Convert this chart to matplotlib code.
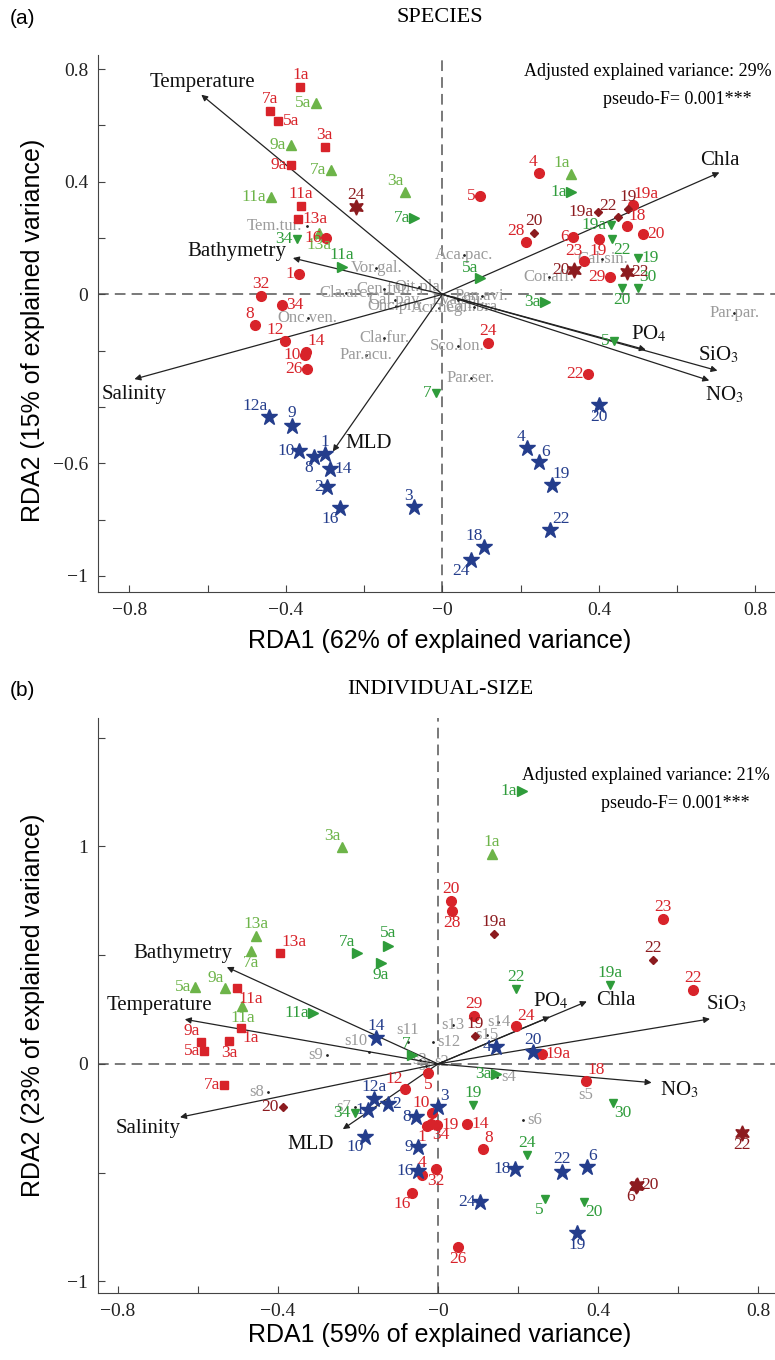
import matplotlib.pyplot as plt
import numpy as np

plt.rcParams['font.family'] = ['Liberation Serif', 'DejaVu Serif']
plt.rcParams['mathtext.fontset'] = 'stix'

RED = '#d8232a'
MAROON = '#8c1b1f'
LGREEN = '#6db449'
DGREEN = '#2f9c3b'
BLUE = '#243d8c'
GREY = '#9b9b9b'

#### DATOS PANEL (a) SPECIES ####
a_sq_lab = ['1a', '7a', '5a', '3a', '9a', '11a', '13a']
a_sq_x = [-0.363, -0.441, -0.419, -0.301, -0.386, -0.362, -0.369]
a_sq_y = [0.735, 0.651, 0.616, 0.523, 0.460, 0.312, 0.268]

a_up_lab = ['5a', '9a', '7a', '11a', '3a', '1a', '13a']
a_up_x = [-0.323, -0.388, -0.285, -0.439, -0.095, 0.329, -0.316]
a_up_y = [0.679, 0.531, 0.442, 0.347, 0.363, 0.428, 0.217]

a_rt_lab = ['7a', '11a', '1a', '5a', '3a']
a_rt_x = [-0.072, -0.257, 0.329, 0.096, 0.261]
a_rt_y = [0.271, 0.097, 0.365, 0.057, -0.026]

a_dn_lab = ['34', '19a', '22', '19', '30', '20', '5', '7']
a_dn_x = [-0.372, 0.431, 0.434, 0.499, 0.499, 0.458, 0.439, -0.016]
a_dn_y = [0.196, 0.247, 0.196, 0.129, 0.024, 0.024, -0.165, -0.349]

a_st6_lab = ['24', '20', '22']
a_st6_x = [-0.220, 0.337, 0.472]
a_st6_y = [0.310, 0.085, 0.078]

a_ci_lab = ['1', '32', '34', '8', '12', '14', '10', '26', '16', '4', '5', '28', '6',
            '19', '23', '29', '18', '20', '19a', '24', '22']
a_ci_x = [-0.367, -0.463, -0.410, -0.478, -0.401, -0.348, -0.352, -0.347, -0.297, 0.246,
          0.096, 0.214, 0.335, 0.399, 0.363, 0.429, 0.472, 0.512, 0.486, 0.116, 0.371]
a_ci_y = [0.072, -0.005, -0.037, -0.108, -0.165, -0.205, -0.215, -0.266, 0.200, 0.430,
          0.351, 0.185, 0.205, 0.197, 0.117, 0.063, 0.241, 0.214, 0.318, -0.173, -0.284]

a_di_lab = ['20', '19a', '22', '19']
a_di_x = [0.233, 0.397, 0.448, 0.475]
a_di_y = [0.217, 0.294, 0.276, 0.303]

a_bs_lab = ['12a', '9', '10', '8', '1', '14', '2', '16', '3', '20', '4', '6', '19', '22', '18', '24']
a_bs_x = [-0.444, -0.384, -0.367, -0.327, -0.301, -0.286, -0.295, -0.261, -0.072,
          0.399, 0.215, 0.248, 0.279, 0.276, 0.107, 0.073]
a_bs_y = [-0.434, -0.466, -0.558, -0.578, -0.567, -0.620, -0.683, -0.760, -0.754,
          -0.393, -0.546, -0.597, -0.677, -0.837, -0.896, -0.943]

a_env = ['Temperature', 'Bathymetry', 'Chla', 'Salinity', 'MLD', 'PO$_4$', 'SiO$_3$', 'NO$_3$']
a_env_x = [-0.616, -0.382, 0.708, -0.787, -0.280, 0.520, 0.703, 0.682]
a_env_y = [0.709, 0.129, 0.433, -0.301, -0.558, -0.197, -0.271, -0.306]

a_sp = ['Tem.tur.', 'Aca.pac.', 'Cor.aff.', 'Cal.sin.', 'Par.par.', 'Onc.ven.', 'Cla.fur.',
        'Par.acu.', 'Sco.lon.', 'Par.ser.', 'Vor.gal.', 'Cla.arc.', 'Cen.fur.', 'Cal.pav.',
        'Onc.pro.', 'Acr.neg.', 'Oit.pla.', 'Eva.spi.', 'Pen.avi.', 'Can.bra.']
a_sp_x = [-0.347, 0.056, 0.273, 0.409, 0.746, -0.344, -0.148, -0.195, 0.039, 0.073,
          -0.169, -0.247, -0.150, -0.120, -0.118, -0.008, -0.060, 0.040, 0.100, 0.080]
a_sp_y = [0.241, 0.140, 0.062, 0.125, -0.066, -0.085, -0.156, -0.215, -0.185, -0.298,
          0.093, 0.004, 0.020, -0.020, -0.043, -0.048, 0.027, -0.020, -0.005, -0.045]

#### DATOS PANEL (b) INDIVIDUAL-SIZE ####
b_up_lab = ['3a', '13a', '7a', '5a', '9a', '11a', '1a']
b_up_x = [-0.239, -0.456, -0.468, -0.607, -0.532, -0.489, 0.134]
b_up_y = [0.999, 0.589, 0.520, 0.353, 0.347, 0.267, 0.964]

b_sq_lab = ['13a', '11a', '9a', '1a', '3a', '5a', '7a']
b_sq_x = [-0.395, -0.502, -0.593, -0.493, -0.522, -0.584, -0.534]
b_sq_y = [0.512, 0.348, 0.100, 0.167, 0.106, 0.061, -0.097]

b_rt_lab = ['7a', '5a', '9a', '11a', '1a', '3a', '7']
b_rt_x = [-0.203, -0.124, -0.143, -0.313, 0.209, 0.144, -0.066]
b_rt_y = [0.509, 0.544, 0.463, 0.233, 1.255, -0.047, 0.041]

b_dn_lab = ['34', '19a', '22', '19', '30', '24', '5', '20']
b_dn_x = [-0.208, 0.430, 0.194, 0.088, 0.437, 0.223, 0.268, 0.365]
b_dn_y = [-0.227, 0.363, 0.343, -0.189, -0.178, -0.418, -0.623, -0.633]

b_di_lab = ['20', '19a', '22', '19']
b_di_x = [-0.388, 0.141, 0.538, 0.093]
b_di_y = [-0.196, 0.596, 0.478, 0.129]

b_st6_lab = ['22', '20', '6']
b_st6_x = [0.759, 0.498, 0.496]
b_st6_y = [-0.316, -0.556, -0.560]

b_ci_lab = ['20', '28', '23', '22', '29', '24', '19a', '18', '14', '8', '26', '12', '5',
            '10', '1', '19', '34', '4', '32', '16']
b_ci_x = [0.033, 0.036, 0.563, 0.638, 0.091, 0.195, 0.259, 0.369, 0.072, 0.113, 0.051,
          -0.083, -0.024, -0.016, -0.027, -0.003, -0.018, -0.041, -0.005, -0.064]
b_ci_y = [0.749, 0.703, 0.665, 0.340, 0.221, 0.172, 0.045, -0.078, -0.277, -0.392, -0.840,
          -0.117, -0.040, -0.227, -0.285, -0.280, -0.276, -0.510, -0.484, -0.595]

b_bs_lab = ['14', '12a', '1', '2', '10', '8', '9', '16', '3', '4', '20', '18', '22', '6', '24', '19']
b_bs_x = [-0.155, -0.159, -0.174, -0.126, -0.183, -0.056, -0.051, -0.049, 0.001,
          0.145, 0.237, 0.193, 0.309, 0.372, 0.105, 0.347]
b_bs_y = [0.118, -0.162, -0.211, -0.184, -0.334, -0.245, -0.380, -0.490, -0.199,
          0.080, 0.054, -0.483, -0.495, -0.472, -0.633, -0.775]

b_env = ['Bathymetry', 'Temperature', 'Salinity', 'MLD', 'PO$_4$', 'Chla', 'SiO$_3$', 'NO$_3$']
b_env_x = [-0.528, -0.633, -0.645, -0.238, 0.280, 0.372, 0.680, 0.534]
b_env_y = [0.445, 0.205, -0.245, -0.300, 0.217, 0.287, 0.207, -0.086]

b_sp = ['s4', 's5', 's6', 's7', 's8', 's9', 's10', 's11', 's12', 's13', 's14', 's15',
        's1', 's2', 's3']
b_sp_x = [0.148, 0.368, 0.213, -0.208, -0.424, -0.277, -0.172, -0.075, -0.013, 0.038,
          0.151, 0.122, -0.030, 0.010, -0.045]
b_sp_y = [-0.060, -0.087, -0.257, -0.198, -0.127, 0.041, 0.057, 0.100, 0.103, 0.179,
          0.194, 0.133, -0.010, 0.010, 0.020]

#### COLOCACION DE ETIQUETAS ####
OFF = {'l': (-3, 0, 'right', 'center'), 'r': (3, 0, 'left', 'center'),
       't': (0, 3, 'center', 'bottom'), 'b': (0, -3, 'center', 'top'),
       'tl': (-1, 2, 'right', 'bottom'), 'tr': (1, 2, 'left', 'bottom'),
       'bl': (-1, -2, 'right', 'top'), 'br': (1, -2, 'left', 'top'),
       'c': (0, 0, 'center', 'center')}

a_sq_pos = ['t', 't', 'r', 't', 'l', 't', 'r']
a_up_pos = ['l', 'l', 'l', 'l', 'tl', 'tl', 'b']
a_rt_pos = ['l', 't', 'l', 'tl', 'l']
a_dn_pos = ['l', 'l', 'br', 'r', 'tr', 'b', 'l', 'l']
a_st6_pos = ['t', 'l', 'r']
a_ci_pos = ['l', 't', 'r', 'tl', 'tl', 'tr', 'l', 'l', 'l', 'tl', 'l', 'tl', 'l',
            'b', 'tl', 'l', 'tr', 'r', 'tr', 't', 'l']
a_di_pos = ['t', 'l', 'tl', 't']
a_bs_pos = ['tl', 't', 'l', 'bl', 't', 'r', 'l', 'bl', 'tl', 'b', 'tl', 'tr', 'tr', 'tr', 'tl', 'bl']
a_sp_pos = ['l'] + ['c'] * 19

b_up_pos = ['tl', 't', 'b', 'l', 'tl', 'b', 't']
b_sq_pos = ['tr', 'br', 'tl', 'br', 'b', 'l', 'l']
b_rt_pos = ['tl', 't', 'b', 'l', 'l', 'l', 'tl']
b_dn_pos = ['l', 't', 't', 't', 'br', 't', 'bl', 'br']
b_di_pos = ['l', 't', 't', 't']
b_st6_pos = ['b', 'r', 'bl']
b_ci_pos = ['t', 'b', 't', 't', 't', 'tr', 'r', 'tr', 'r', 'tr', 'b', 'tl', 'b',
            'tl', 'bl', 'r', 'br', 't', 'b', 'bl']
b_bs_pos = ['t', 't', 'l', 'r', 'bl', 'l', 'l', 'l', 'tr', 'l', 't', 'l', 't', 'tr', 'l', 'b']
b_sp_pos = ['r', 'b', 'r', 'l', 'l', 'l', 'tl', 't', 'r', 'c', 'c', 'c', 'c', 'c', 'c']

# desplazamiento (puntos), alineacion de los nombres de las variables
a_env_off = [(1, 9, 'center', 'center'), (-5, 5, 'right', 'center'), (0, 2, 'center', 'bottom'),
             (0, -4, 'center', 'top'), (9, 6, 'left', 'center'), (2, 4, 'center', 'bottom'),
             (1, 4, 'center', 'bottom'), (11, -3, 'center', 'top')]
b_env_off = [(4, 10, 'right', 'center'), (-18, 10, 'center', 'center'), (-23, -8, 'center', 'center'),
             (-23, -11, 'center', 'center'), (1, 4, 'center', 'bottom'), (7, 1, 'left', 'center'),
             (12, 3, 'center', 'bottom'), (6, -5, 'left', 'center')]

W, H = 775, 1360
fig = plt.figure(figsize=(W / 100, H / 100), dpi=100)


def caja(l, t, r, b):
    return [l / W, 1 - b / H, (r - l) / W, (b - t) / H]


def px(x, y):
    return x / W, 1 - y / H


def grupo(ax, labs, xs, ys, pos, marker, col, ms, tcol, fs=12.5):
    ax.plot(xs, ys, ls='none', marker=marker, color=col, mec=col, ms=ms, zorder=4)
    for lab, x, y, p in zip(labs, xs, ys, pos):
        dx, dy, ha, va = OFF[p]
        ax.annotate(lab, (x, y), xytext=(dx, dy), textcoords='offset points',
                    ha=ha, va=va, color=tcol, fontsize=fs, zorder=5)


def especies(ax, labs, xs, ys, pos):
    ax.plot(xs, ys, ls='none', marker='.', color='#222222', ms=2, zorder=2)
    for lab, x, y, p in zip(labs, xs, ys, pos):
        dx, dy, ha, va = OFF[p]
        ax.annotate(lab, (x, y), xytext=(dx, dy), textcoords='offset points',
                    ha=ha, va=va, color=GREY, fontsize=12, zorder=2)


def flechas(ax, nombres, xs, ys, offs):
    for n, x, y, (dx, dy, ha, va) in zip(nombres, xs, ys, offs):
        ax.annotate('', xy=(x, y), xytext=(0, 0),
                    arrowprops=dict(arrowstyle='-|>', color='#222222', lw=0.9,
                                    mutation_scale=9, shrinkA=0, shrinkB=0), zorder=3)
        ax.annotate(n, (x, y), xytext=(dx, dy), textcoords='offset points',
                    ha=ha, va=va, fontsize=15, color='#111111', zorder=6)


def ejes(ax, xl, yl, yt, ylab):
    ax.set_xlim(xl)
    ax.set_ylim(yl)
    for s in ['top', 'right']:
        ax.spines[s].set_visible(False)
    for s in ['left', 'bottom']:
        ax.spines[s].set_color('#444444')
    ax.axhline(0, color='#555555', ls=(0, (7, 4)), lw=1.1, zorder=1)
    ax.axvline(0, color='#555555', ls=(0, (7, 4)), lw=1.1, zorder=1)
    xt = np.round(np.arange(-0.8, 0.81, 0.2), 2)
    ax.set_xticks(xt)
    ax.set_xticklabels([('%g' % v).replace('-', '\u2212') if abs(round(v / 0.4) * 0.4 - v) < 1e-6 else ''
                        for v in xt])
    ax.set_yticks(yt)
    ax.set_yticklabels(ylab)
    ax.tick_params(direction='in', length=5, labelsize=14, colors='#444444',
                   labelcolor='#222222', pad=7)


#### PANEL (a) ####
ax1 = fig.add_axes(caja(98, 55, 775, 592))
yt_a = np.round(np.arange(-1.0, 0.81, 0.2), 2)
lab_a = {0.8: '0.8', 0.4: '0.4', 0.0: '0', -0.6: '\u22120.6', -1.0: '\u22121'}
ejes(ax1, (-0.88, 0.85), (-1.057, 0.85), yt_a, [lab_a.get(v, '') for v in yt_a])

especies(ax1, a_sp, a_sp_x, a_sp_y, a_sp_pos)
flechas(ax1, a_env, a_env_x, a_env_y, a_env_off)
grupo(ax1, a_sq_lab, a_sq_x, a_sq_y, a_sq_pos, 's', RED, 6, RED)
grupo(ax1, a_up_lab, a_up_x, a_up_y, a_up_pos, '^', LGREEN, 7, LGREEN)
grupo(ax1, a_rt_lab, a_rt_x, a_rt_y, a_rt_pos, '>', DGREEN, 6.5, DGREEN)
grupo(ax1, a_dn_lab, a_dn_x, a_dn_y, a_dn_pos, 'v', DGREEN, 6, DGREEN)
grupo(ax1, a_ci_lab, a_ci_x, a_ci_y, a_ci_pos, 'o', RED, 7, RED)
grupo(ax1, a_di_lab, a_di_x, a_di_y, a_di_pos, 'D', MAROON, 4.5, MAROON)
grupo(ax1, a_st6_lab, a_st6_x, a_st6_y, a_st6_pos, (6, 1, 0), MAROON, 11, MAROON)
grupo(ax1, a_bs_lab, a_bs_x, a_bs_y, a_bs_pos, '*', BLUE, 12, BLUE)

#### PANEL (b) ####
ax2 = fig.add_axes(caja(98, 718, 775, 1293))
yt_b = np.round(np.arange(-1.0, 1.51, 0.5), 2)
lab_b = {1.0: '1', 0.0: '0', -1.0: '\u22121'}
ejes(ax2, (-0.85, 0.8425), (-1.053, 1.59), yt_b, [lab_b.get(v, '') for v in yt_b])

especies(ax2, b_sp, b_sp_x, b_sp_y, b_sp_pos)
flechas(ax2, b_env, b_env_x, b_env_y, b_env_off)
grupo(ax2, b_sq_lab, b_sq_x, b_sq_y, b_sq_pos, 's', RED, 6, RED)
grupo(ax2, b_up_lab, b_up_x, b_up_y, b_up_pos, '^', LGREEN, 7, LGREEN)
grupo(ax2, b_rt_lab, b_rt_x, b_rt_y, b_rt_pos, '>', DGREEN, 6.5, DGREEN)
grupo(ax2, b_dn_lab, b_dn_x, b_dn_y, b_dn_pos, 'v', DGREEN, 6, DGREEN)
grupo(ax2, b_ci_lab, b_ci_x, b_ci_y, b_ci_pos, 'o', RED, 7, RED)
grupo(ax2, b_di_lab, b_di_x, b_di_y, b_di_pos, 'D', MAROON, 4.5, MAROON)
grupo(ax2, b_st6_lab, b_st6_x, b_st6_y, b_st6_pos, (6, 1, 0), MAROON, 11, MAROON)
grupo(ax2, b_bs_lab, b_bs_x, b_bs_y, b_bs_pos, '*', BLUE, 12, BLUE)

#### TEXTOS ####
sans = ['Liberation Sans', 'DejaVu Sans']
fig.text(*px(10, 18), '(a)', family=sans, fontsize=15, va='center')
fig.text(*px(10, 690), '(b)', family=sans, fontsize=15, va='center')
fig.text(*px(440, 18), 'SPECIES', fontsize=16, ha='center', va='center')
fig.text(*px(440, 689), 'INDIVIDUAL-SIZE', fontsize=16, ha='center', va='center')
fig.text(*px(772, 72), 'Adjusted explained variance: 29%', fontsize=13, ha='right', va='center')
fig.text(*px(752, 100), 'pseudo-F= 0.001***', fontsize=13, ha='right', va='center')
fig.text(*px(770, 775), 'Adjusted explained variance: 21%', fontsize=13, ha='right', va='center')
fig.text(*px(750, 803), 'pseudo-F= 0.001***', fontsize=13, ha='right', va='center')
fig.text(*px(440, 641), 'RDA1 (62% of explained variance)', family=sans, fontsize=18,
         ha='center', va='center')
fig.text(*px(440, 1335), 'RDA1 (59% of explained variance)', family=sans, fontsize=18,
         ha='center', va='center')
fig.text(*px(33, 330), 'RDA2 (15% of explained variance)', family=sans, fontsize=18,
         ha='center', va='center', rotation=90)
fig.text(*px(33, 1005), 'RDA2 (23% of explained variance)', family=sans, fontsize=18,
         ha='center', va='center', rotation=90)

fig.savefig('out.png', dpi=100)
